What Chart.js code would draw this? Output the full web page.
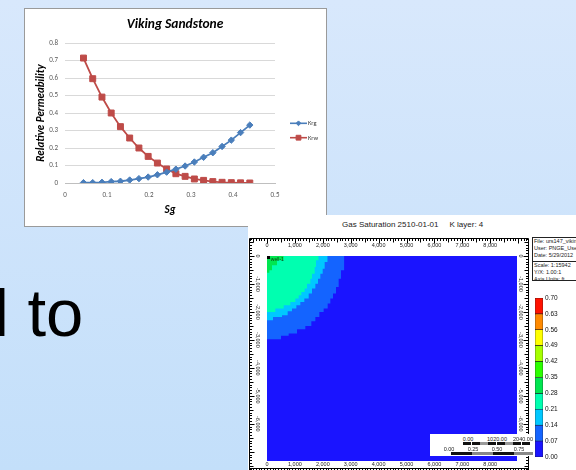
<!DOCTYPE html>
<html>
<head>
<meta charset="utf-8">
<script src="https://cdn.jsdelivr.net/npm/chart.js@4.4.1/dist/chart.umd.min.js"></script>
<style>
  html, body { margin: 0; padding: 0; }
  body { width: 576px; height: 470px; overflow: hidden; position: relative;
         background: linear-gradient(to bottom, #d8e8fc 0%, #c3dffa 100%);
         font-family: "Liberation Sans", Arial, sans-serif; }
  .abs { position: absolute; }
  #bigText { left: -6px; top: 279px; font-size: 67px; line-height: 67px; color: #000; white-space: nowrap; }
  #chartBox { left: 24px; top: 8px; width: 301px; height: 217px; background: #fff; border: 1px solid #9a9a9a; }
  #kr { position: absolute; left: -1px; top: -1px; }
  #sim { left: 248px; top: 215px; width: 328px; height: 255px; background: #fff; }
  #simTitle { left: 342px; top: 220px; font-size: 8px; line-height: 10px; color: #222; white-space: nowrap; }
  #simTitle span { margin-left: 11px; }
  #info { left: 532px; top: 237px; width: 60px; height: 42px; border: 1px solid #222; background: #fff;
          font-size: 5.5px; line-height: 7.2px; color: #222; overflow: hidden; white-space: nowrap; }
  #info .sep { border-top: 1px solid #222; margin-top: 1px; padding-top: 0px; }
  #info div { padding-left: 1px; }
  #scalebar { left: 430px; top: 434px; width: 103px; height: 22px; background: #fff; font-size: 5.5px; color: #222; }
  #scalebar .t { position: absolute; white-space: nowrap; transform: translateX(-50%); line-height: 6px; }
  #scalebar .bar { position: absolute; height: 3px; }
</style>
</head>
<body>
<div id="bigText" class="abs">l to</div>
<div id="chartBox" class="abs"><canvas id="kr" width="302" height="218"></canvas></div>
<div id="sim" class="abs"></div>
<div id="simTitle" class="abs">Gas Saturation 2510-01-01<span>K layer: 4</span></div>
<canvas id="map" class="abs" width="282" height="234" style="left:249px;top:236px;"></canvas>
<canvas id="cbar" class="abs" width="43" height="176" style="left:533px;top:290px;"></canvas>
<div id="info" class="abs">
  <div>File: urs147_viking</div>
  <div>User: PNGE_User</div>
  <div>Date: 5/29/2012</div>
  <div class="sep">Scale: 1:15942</div>
  <div>Y/X: 1.00:1</div>
  <div>Axis Units: ft</div>
</div>
<div id="scalebar" class="abs">
  <div class="t" style="left:38px;top:2px;">0.00</div>
  <div class="t" style="left:67px;top:2px;">1020.00</div>
  <div class="t" style="left:93px;top:2px;">2040.00</div>
  <div class="bar" style="left:33px;top:8px;width:67px;background:repeating-linear-gradient(to right,#111 0 8px,#fff 8px 9px,#111 9px 17px,#999 17px 25px);"></div>
  <div class="t" style="left:19px;top:12px;">0.00</div>
  <div class="t" style="left:43px;top:12px;">0.25</div>
  <div class="t" style="left:67px;top:12px;">0.50</div>
  <div class="t" style="left:89px;top:12px;">0.75</div>
  <div class="bar" style="left:21px;top:18px;width:82px;background:repeating-linear-gradient(to right,#111 0 21px,#888 21px 42px);"></div>
</div>

<script>
// ---------------- Data: Viking Sandstone relative permeability ----------------
const sgValues  = [0.044, 0.066, 0.088, 0.110, 0.132, 0.154, 0.176, 0.198, 0.220, 0.242,
                   0.264, 0.286, 0.308, 0.330, 0.352, 0.374, 0.396, 0.418, 0.440];
const krgValues = [0.002, 0.002, 0.004, 0.008, 0.010, 0.017, 0.025, 0.034, 0.047, 0.062,
                   0.079, 0.097, 0.120, 0.147, 0.173, 0.209, 0.245, 0.288, 0.331];
const krwValues = [0.714, 0.596, 0.491, 0.400, 0.322, 0.257, 0.200, 0.152, 0.114, 0.080,
                   0.053, 0.038, 0.023, 0.015, 0.008, 0.004, 0.002, 0.001, 0.000];
const seriesNames = ['Krg', 'Krw'];
const xTickValues = [0, 0.1, 0.2, 0.3, 0.4, 0.5];
const yTickValues = [0, 0.1, 0.2, 0.3, 0.4, 0.5, 0.6, 0.7, 0.8];

// ---------------- Data: gas saturation map (contour staircase boundaries, ft) ----------------
const band28X = [0, 84, 179, 359, 598];
const band28Y = [-595, -512, -333, -155, 0];
const band21X = [0, 299, 598, 837, 1016, 1135, 1231, 1350, 1434, 1554, 1613, 1709, 1757, 1852];
const band21Y = [-1999, -1880, -1761, -1642, -1523, -1404, -1285, -1166, -988, -809, -631, -393, -155, 0];
const band14X = [0, 215, 538, 741, 896, 1052, 1195, 1338, 1494, 1613, 1733, 1828, 1912, 1996, 2067, 2175];
const band14Y = [-2297, -2178, -2118, -1975, -1880, -1761, -1642, -1523, -1345, -1166, -988, -809, -631, -452, -214, 0];
const band07X = [0, 502, 777, 1075, 1374, 1589, 1733, 1876, 2031, 2175, 2270, 2366, 2474, 2569, 2653, 2772];
const band07Y = [-2975, -2856, -2773, -2618, -2499, -2332, -2178, -1999, -1880, -1702, -1523, -1345, -1107, -809, -512, 0];
const mapXRange = [0, 8960];
const mapYRange = [-7330, 0];
const mapXLabels = [0, 1000, 2000, 3000, 4000, 5000, 6000, 7000, 8000];
const mapYLabels = [0, -1000, -2000, -3000, -4000, -5000, -6000];
const wellName = 'well-1';
const wellPos = [30, -30];

// ---------------- Data: colour legend ----------------
const cbarTicks  = [0.00, 0.07, 0.14, 0.21, 0.28, 0.35, 0.42, 0.49, 0.56, 0.63, 0.70];
const cbarColors = ['#1a14ff', '#1464ff', '#00c8ff', '#00ffb0', '#00e650',
                    '#2cff00', '#a6ff00', '#ffff00', '#ff8a00', '#ff1200'];

// ======================================================================
const FONT = 'Carlito, Lato, "Open Sans", sans-serif';
const BLUE = '#4a7ebb';
const RED = '#be4b48';

function toPts(xs, ys) { return xs.map((x, i) => ({ x: x, y: ys[i] })); }

const legendPlugin = {
  id: 'excelLegend',
  afterDraw(chart) {
    const ctx = chart.ctx;
    const ys = [115.3, 129.7];
    const radii = [2.4, 3.4];
    ctx.save();
    chart.data.datasets.forEach((ds, i) => {
      const y = ys[i];
      ctx.strokeStyle = ds.borderColor;
      ctx.lineWidth = 1.6;
      ctx.beginPath(); ctx.moveTo(266, y); ctx.lineTo(283, y); ctx.stroke();
      ctx.fillStyle = ds.backgroundColor;
      ctx.lineWidth = 1;
      Chart.helpers.drawPoint(ctx, {
        pointStyle: ds.pointStyle, radius: radii[i], borderWidth: 1, rotation: 0
      }, 274.5, y);
      ctx.fillStyle = '#404040';
      ctx.font = '6.5px ' + FONT;
      ctx.textBaseline = 'middle';
      ctx.textAlign = 'left';
      ctx.fillText(ds.label, 284, y + 0.5);
    });
    ctx.restore();
  }
};

new Chart(document.getElementById('kr'), {
  type: 'scatter',
  data: {
    datasets: [
      { label: seriesNames[0], data: toPts(sgValues, krgValues), showLine: true,
        borderColor: BLUE, backgroundColor: BLUE, borderWidth: 1.8,
        pointStyle: 'rectRot', pointRadius: 3.2, pointBorderWidth: 1 },
      { label: seriesNames[1], data: toPts(sgValues, krwValues), showLine: true,
        borderColor: RED, backgroundColor: RED, borderWidth: 1.8,
        pointStyle: 'rect', pointRadius: 4.2, pointBorderWidth: 1 }
    ]
  },
  options: {
    responsive: false, animation: false, devicePixelRatio: 1,
    layout: { padding: 0 },
    plugins: {
      legend: { display: false },
      tooltip: { enabled: false },
      title: { display: true, text: 'Viking Sandstone', color: '#000',
               font: { family: FONT, size: 13.5, weight: 'bold', style: 'italic' },
               padding: { top: 8.5, bottom: 10.3 } }
    },
    scales: {
      x: {
        type: 'linear', min: 0, max: 0.5,
        afterBuildTicks(s) { s.ticks = xTickValues.map(v => ({ value: v })); },
        afterFit(s) { s.height = 43; },
        ticks: { color: '#595959', font: { family: FONT, size: 7 }, padding: 8,
                 callback: v => String(v) },
        grid: { display: false, drawTicks: false },
        border: { display: true, color: '#bfbfbf', width: 1 },
        title: { display: true, text: 'Sg', color: '#000',
                 font: { family: FONT, size: 11, weight: 'bold', style: 'italic' },
                 padding: { top: 0, bottom: 9.4 } }
      },
      y: {
        type: 'linear', min: 0, max: 0.8,
        afterBuildTicks(s) { s.ticks = yTickValues.map(v => ({ value: v })); },
        afterFit(s) { s.width = 41; },
        ticks: { color: '#595959', font: { family: FONT, size: 7 }, padding: 7,
                 callback: v => String(v) },
        grid: { color: '#d9d9d9', drawTicks: false, lineWidth: 1 },
        border: { display: false },
        title: { display: true, text: 'Relative Permeability', color: '#000',
                 font: { family: FONT, size: 11, weight: 'bold', style: 'italic' },
                 padding: { top: 10.4, bottom: 0 } }
      },
      yR: {
        type: 'linear', position: 'right', display: true,
        afterFit(s) { s.width = 51; },
        ticks: { display: false }, grid: { display: false }, border: { display: false }
      }
    }
  },
  plugins: [legendPlugin]
});

// ---------------- Gas saturation map ----------------
const rulerPlugin = {
  id: 'ruler',
  afterDraw(chart) {
    const { ctx, chartArea: a } = chart;
    const xs = chart.scales.x, ys = chart.scales.y;
    const L = a.left - 18 + 0.5, R = a.right + 11 + 0.5, T = a.top - 18 + 0.5, B = a.bottom + 7 + 0.5;
    const H = chart.height;
    ctx.save();
    ctx.strokeStyle = '#000'; ctx.lineWidth = 1;
    ctx.beginPath();
    ctx.moveTo(L, T); ctx.lineTo(R, T);
    ctx.moveTo(L, T); ctx.lineTo(L, H);
    ctx.moveTo(R, T); ctx.lineTo(R, H);
    ctx.moveTo(L, B); ctx.lineTo(R, B);
    for (let v = -1000; v <= 10000; v += 100) {
      const px = Math.round(xs.getPixelForValue(v)) + 0.5;
      if (px <= L || px >= R) continue;
      const len = v % 1000 === 0 ? 5 : (v % 500 === 0 ? 4 : 2.5);
      ctx.moveTo(px, T); ctx.lineTo(px, T + len);
      ctx.moveTo(px, B); ctx.lineTo(px, B + len);
    }
    for (let v = 1000; v >= -9000; v -= 100) {
      const py = Math.round(ys.getPixelForValue(v)) + 0.5;
      if (py <= T || py >= H) continue;
      const len = v % 1000 === 0 ? 5 : (v % 500 === 0 ? 4 : 2.5);
      ctx.moveTo(L, py); ctx.lineTo(L + len, py);
      ctx.moveTo(R, py); ctx.lineTo(R - len, py);
    }
    ctx.stroke();
    const fmt = v => v.toLocaleString('en-US');
    ctx.fillStyle = '#222';
    ctx.font = '5.5px "Liberation Sans", Arial, sans-serif';
    ctx.textAlign = 'center'; ctx.textBaseline = 'middle';
    mapXLabels.forEach(v => {
      const px = xs.getPixelForValue(v);
      ctx.fillText(fmt(v), px, a.top - 11);
      ctx.fillText(fmt(v), px, a.bottom + 3.5);
    });
    mapYLabels.forEach(v => {
      const py = ys.getPixelForValue(v);
      [a.left - 9, a.right + 3.5].forEach(cx => {
        ctx.save(); ctx.translate(cx, py); ctx.rotate(Math.PI / 2);
        ctx.fillText(fmt(v), 0, 0); ctx.restore();
      });
    });
    const wx = xs.getPixelForValue(wellPos[0]), wy = ys.getPixelForValue(wellPos[1]);
    ctx.fillStyle = '#000';
    ctx.fillRect(Math.round(wx) - 1, Math.round(wy) - 1, 3, 3);
    ctx.fillStyle = '#0a3a10';
    ctx.font = '5px "Liberation Sans", Arial, sans-serif';
    ctx.textAlign = 'left';
    ctx.fillText(wellName, wx + 3, wy + 2.5);
    ctx.restore();
  }
};

const bandDs = (pts, color) => ({
  data: pts, showLine: true, stepped: 'before', fill: 'end',
  backgroundColor: color, borderColor: color, borderWidth: 0, pointRadius: 0
});

new Chart(document.getElementById('map'), {
  type: 'scatter',
  data: {
    datasets: [
      bandDs(toPts(band28X, band28Y), cbarColors[4]),
      bandDs(toPts(band21X, band21Y), cbarColors[3]),
      bandDs(toPts(band14X, band14Y), cbarColors[2]),
      bandDs(toPts(band07X, band07Y), cbarColors[1]),
      bandDs([{ x: mapXRange[0], y: mapYRange[0] }, { x: mapXRange[1], y: mapYRange[0] }], cbarColors[0])
    ]
  },
  options: {
    responsive: false, animation: false, devicePixelRatio: 1,
    layout: { padding: { left: 18, right: 14, top: 20, bottom: 9 } },
    plugins: { legend: { display: false }, tooltip: { enabled: false } },
    scales: {
      x: { type: 'linear', display: false, min: mapXRange[0], max: mapXRange[1] },
      y: { type: 'linear', display: false, min: mapYRange[0], max: mapYRange[1] }
    }
  },
  plugins: [rulerPlugin]
});

// ---------------- Colour legend bar ----------------
new Chart(document.getElementById('cbar'), {
  type: 'bar',
  data: {
    labels: [''],
    datasets: cbarColors.map((c, i) => ({
      label: cbarTicks[i].toFixed(2), data: [cbarTicks[i + 1] - cbarTicks[i]],
      backgroundColor: c, borderColor: '#1a1a1a', borderWidth: 0.6, borderSkipped: false,
      categoryPercentage: 1, barPercentage: 1
    }))
  },
  options: {
    responsive: false, animation: false, devicePixelRatio: 1,
    layout: { padding: { left: 2, right: 0, top: 8, bottom: 9 } },
    plugins: { legend: { display: false }, tooltip: { enabled: false } },
    scales: {
      x: { stacked: true, display: false },
      y: {
        stacked: true, position: 'right', min: 0, max: 0.7,
        afterBuildTicks(s) { s.ticks = cbarTicks.map(v => ({ value: v })); },
        afterFit(s) { s.width = 33; },
        ticks: { color: '#111', font: { family: '"Liberation Sans", Arial, sans-serif', size: 6.5 },
                 padding: 2, callback: v => Number(v).toFixed(2) },
        grid: { display: false, drawTicks: false },
        border: { display: false }
      }
    }
  }
});
</script>
</body>
</html>
